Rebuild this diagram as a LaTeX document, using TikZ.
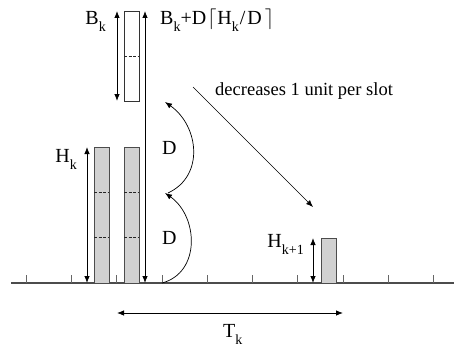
\documentclass[tikz,border=0pt]{standalone}
\usepackage{fontspec}
\setmainfont{Liberation Serif}
\usetikzlibrary{arrows.meta,positioning}

% subscript as in the figure (upright, dropped)
\newcommand{\sbk}[2]{#1\raisebox{-7pt}{\fontsize{14}{14}\selectfont #2}}

\tikzset{
  dimarrow/.style={{Latex[length=7pt,width=5.5pt]}-{Latex[length=7pt,width=5.5pt]}, line width=0.8pt},
  slotbar/.style={draw=black!70, fill=black!18, line width=0.9pt},
  unitline/.style={black!85, line width=0.7pt, dash pattern=on 3pt off 1.5pt},
  lbl/.style={inner sep=0pt, font=\fontsize{20}{24}\selectfont}
}

\begin{document}
\begin{tikzpicture}[x=1pt,y=1pt]
  \useasboundingbox (0,0) rectangle (454,349);

  % time axis with slot ticks
  \draw[black!70, line width=1.1pt] (11,66) -- (454,66);
  \foreach \i in {0,...,9}
    \draw[black!60, line width=0.8pt] (26+45.3*\i,66) -- ++(0,8);

  % backlog bars
  \draw[slotbar] (94,66) rectangle (109,202);
  \draw[slotbar] (124,66) rectangle (139,202);
  \foreach \y in {111.3,156.6} {
    \draw[unitline] (94,\y) -- (109,\y);
    \draw[unitline] (124,\y) -- (139,\y);
  }
  \draw[slotbar] (321,66) rectangle (336,111);
  % bucket
  \draw[black!80, line width=0.9pt] (124,248) rectangle (139,338);
  \draw[unitline] (124,293) -- (139,293);

  % dimension points
  \coordinate (hk-top) at (87,202);
  \coordinate (hk-bot) at (87,66);
  \coordinate (bk-top) at (117,338);
  \coordinate (bk-bot) at (117,248);
  \coordinate (tot-top) at (145,338);
  \coordinate (tot-bot) at (145,66);
  \coordinate (hk1-top) at (313,111);
  \coordinate (hk1-bot) at (313,66);
  \coordinate (tk-l) at (117,36);
  \coordinate (tk-r) at (343,36);
  \coordinate (dec-from) at (193,262);
  \coordinate (dec-to) at (313,142);
  \coordinate (d0) at (162,66);
  \coordinate (d1) at (165,156);
  \coordinate (d2) at (165,247);

  \draw[dimarrow] (hk-bot) -- (hk-top);
  \draw[dimarrow] (bk-bot) -- (bk-top);
  \draw[dimarrow] (tot-bot) -- (tot-top);
  \draw[dimarrow] (hk1-bot) -- (hk1-top);
  \draw[dimarrow] (tk-l) -- (tk-r);
  \draw[-{Latex[length=7pt,width=5.5pt]}, line width=0.6pt] (dec-from) -- (dec-to);

  % D steps
  \draw[-{Latex[length=7pt,width=5.5pt]}, line width=0.7pt]
    (d0) to[out=15, in=-35, looseness=1.15] (d1);
  \draw[-{Latex[length=7pt,width=5.5pt]}, line width=0.7pt]
    ([xshift=3pt]d1) to[out=25, in=-35, looseness=1.15] (d2);

  % labels
  \node[lbl, anchor=base east] (bk) at (106,324) {\sbk{B}{k}};
  \node[lbl, anchor=base west] (bound) at (160,324)
    {\sbk{B}{k}+D\kern1pt$\lceil$\kern1pt\sbk{H}{k}\kern1pt/\kern2ptD\kern3pt$\rceil$};
  \node[lbl, anchor=base west, font=\fontsize{18.5}{22}\selectfont] (dec) at (215,254)
    {decreases 1 unit per slot};
  \node[lbl, anchor=base east] (hk) at (77,187) {\sbk{H}{k}};
  \node[lbl, anchor=base east] (hk1) at (304,102) {\sbk{H}{k+1}};
  \node[lbl, anchor=base west] (dup) at (162,195) {D};
  \node[lbl, anchor=base west] (dlow) at (162,105) {D};
  \node[lbl, anchor=base west] (tk) at (223,12) {\sbk{T}{k}};
\end{tikzpicture}
\end{document}
